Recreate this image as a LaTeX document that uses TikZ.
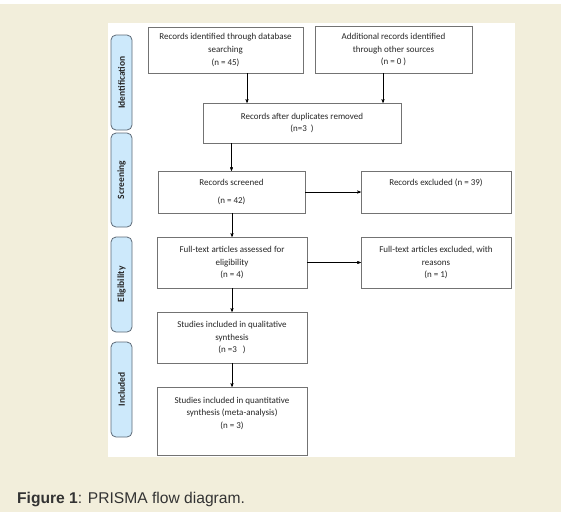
\documentclass[tikz,border=0pt]{standalone}
\usepackage{fontspec}
\setmainfont{Carlito}
\newfontfamily\capfont{Liberation Sans}
\usepackage{tikz}
\usepackage{color}
\usetikzlibrary{arrows}
\definecolor{paper}{HTML}{F2EEDB}
\definecolor{tabblue}{HTML}{CDE9FB}
\definecolor{tabedge}{HTML}{5E6B78}
\tikzset{
  flownode/.style = {align=center, inner sep=0pt, text centered,
    font=\fontsize{9}{12.8}\selectfont, text=black!85},
  flowbox/.style = {flownode, rectangle, draw=black!55, fill=white},% boite du flux
  phasetab/.style = {flownode, rectangle, rounded corners=5pt, draw=tabedge,
    fill=tabblue, thick, rotate=90, minimum width=95pt, minimum height=21pt,
    font=\fontsize{9.5}{10}\selectfont\bfseries},% onglet de phase
}

\begin{document}
\begin{tikzpicture}[x=1pt,y=-1pt,->,>=stealth']
\useasboundingbox (0,0) rectangle (561,515);
\fill [-,paper] (0,4) rectangle (561,512);
\fill [-,white] (108,23) rectangle (515,457);
% onglets
\node [phasetab] (ident) at (121.5,82.5) {Identification};
\node [phasetab, minimum width=94pt] (screen) at (121.5,180) {Screening};
\node [phasetab] (elig) at (121.5,284.5) {Eligibility};
\node [phasetab] (incl) at (121.5,389.5) {Included};
% boites
\node [flowbox, minimum width=155pt, minimum height=46pt] (dbrec) at (225.5,50)
  {Records identified through database\\searching\\(n = 45)};
\node [flowbox, minimum width=157pt, minimum height=47pt] (otherrec) at (393.5,49.5)
  {Additional records identified\\through other sources\\(n = 0\ )};
\node [flowbox, minimum width=198pt, minimum height=40pt] (dedup) at (302,123)
  {Records after duplicates removed\\(n=3\ \ )};
\node [flowbox, minimum width=147pt, minimum height=42pt] (screened) at (231.5,192)
  {Records screened\\[6pt](n = 42)};
\node [flowbox, minimum width=150pt, minimum height=42pt] (screxcl) at (436,192)
  {Records excluded (n = 39)\\[3pt]\strut};
\node [flowbox, minimum width=150pt, minimum height=51pt] (fulltext) at (232,262.5)
  {Full-text articles assessed for\\eligibility\\(n = 4)};
\node [flowbox, minimum width=150pt, minimum height=51pt] (fullexcl) at (436,262.5)
  {Full-text articles excluded, with\\reasons\\(n = 1)};
\node [flowbox, minimum width=150pt, minimum height=51pt] (qual) at (232,337.5)
  {Studies included in qualitative\\synthesis\\(n =3\ \ \ )};
\node [flowbox, minimum width=150pt, minimum height=68pt] (quant) at (232,421)
  {Studies included in quantitative\\synthesis (meta-analysis)\\(n = 3)\\\strut};
% fleches
\draw ([xshift=21.5pt]dbrec.south) -- ([xshift=21.5pt]dbrec.south |- dedup.north);
\draw ([xshift=-10.5pt]otherrec.south) -- ([xshift=-10.5pt]otherrec.south |- dedup.north);
\draw (screened.north |- dedup.south) -- (screened.north);
\draw (screened) -- (screxcl);
\draw (screened.south -| fulltext.north) -- (fulltext.north);
\draw (fulltext) -- (fullexcl);
\draw (fulltext) -- (qual);
\draw (qual) -- (quant);
% legende
\node [anchor=base west, inner sep=0pt, text=black!80,
  font=\capfont\fontsize{15.6}{18}\selectfont] (caption) at (17,503)
  {\textbf{Figure 1}: PRISMA flow diagram.};
\end{tikzpicture}
\end{document}
